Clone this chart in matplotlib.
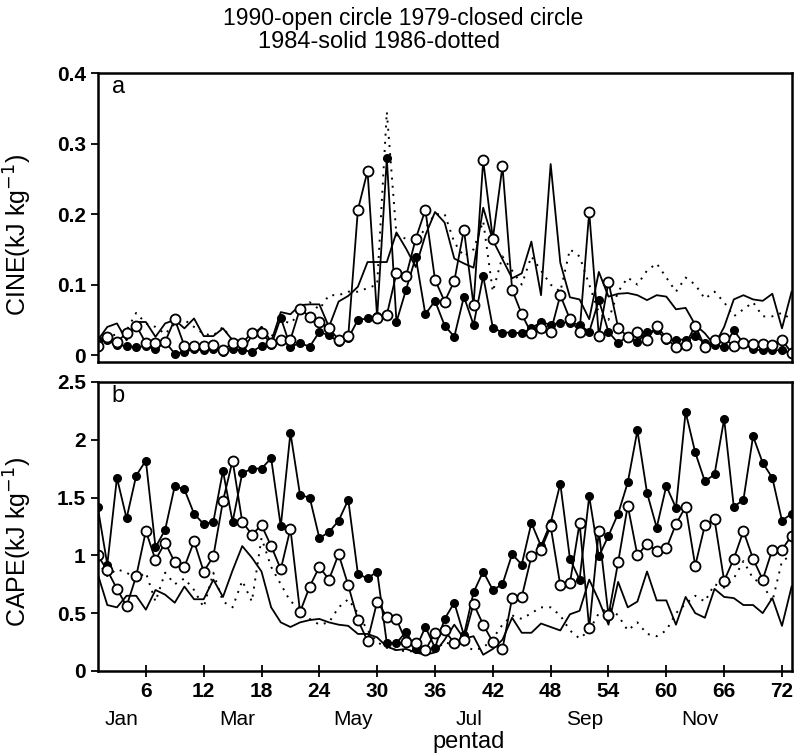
import numpy as np
import matplotlib
matplotlib.use("Agg")
import matplotlib.pyplot as plt
from matplotlib.ticker import FormatStrFormatter, FuncFormatter

plt.rcParams['font.family'] = ['Liberation Sans', 'DejaVu Sans']

pentad = np.arange(1, 74)

# CINE (kJ/kg), panel a
cine_1990 = [0.013, 0.026, 0.019, 0.031, 0.042, 0.017, 0.017, 0.019, 0.051, 0.013,
             0.013, 0.013, 0.014, 0.007, 0.017, 0.017, 0.032, 0.031, 0.017, 0.021,
             0.022, 0.066, 0.054, 0.047, 0.038, 0.022, 0.027, 0.206, 0.261, 0.053,
             0.057, 0.116, 0.112, 0.165, 0.206, 0.107, 0.076, 0.105, 0.178, 0.071,
             0.276, 0.165, 0.268, 0.093, 0.058, 0.031, 0.038, 0.033, 0.085, 0.051,
             0.033, 0.203, 0.027, 0.104, 0.039, 0.026, 0.033, 0.022, 0.042, 0.024,
             0.011, 0.015, 0.042, 0.012, 0.022, 0.024, 0.013, 0.017, 0.016, 0.016,
             0.014, 0.022, 0.003]
cine_1979 = [0.022, 0.022, 0.014, 0.013, 0.011, 0.013, 0.008, 0.019, 0.002, 0.005,
             0.008, 0.007, 0.009, 0.005, 0.008, 0.007, 0.005, 0.013, 0.014, 0.053,
             0.012, 0.017, 0.012, 0.033, 0.028, 0.019, 0.024, 0.050, 0.052, 0.055,
             0.279, 0.047, 0.093, 0.139, 0.058, 0.077, 0.042, 0.026, 0.083, 0.043,
             0.112, 0.039, 0.032, 0.032, 0.031, 0.038, 0.047, 0.043, 0.046, 0.046,
             0.043, 0.033, 0.078, 0.033, 0.017, 0.027, 0.019, 0.033, 0.035, 0.022,
             0.022, 0.022, 0.027, 0.017, 0.014, 0.012, 0.035, 0.017, 0.008, 0.007,
             0.007, 0.007, 0.002]
cine_1984 = [0.021, 0.040, 0.045, 0.021, 0.047, 0.047, 0.026, 0.045, 0.050, 0.038,
             0.052, 0.027, 0.027, 0.038, 0.021, 0.008, 0.027, 0.040, 0.019, 0.061,
             0.058, 0.071, 0.072, 0.072, 0.040, 0.076, 0.084, 0.097, 0.132, 0.132,
             0.132, 0.174, 0.151, 0.125, 0.170, 0.203, 0.188, 0.137, 0.130, 0.124,
             0.209, 0.163, 0.136, 0.109, 0.116, 0.161, 0.085, 0.271, 0.131, 0.082,
             0.079, 0.051, 0.118, 0.083, 0.087, 0.088, 0.085, 0.078, 0.085, 0.083,
             0.065, 0.067, 0.043, 0.031, 0.014, 0.040, 0.079, 0.085, 0.079, 0.077,
             0.087, 0.038, 0.090]
cine_1986 = [0.021, 0.025, 0.030, 0.035, 0.060, 0.045, 0.040, 0.030, 0.045, 0.050,
             0.040, 0.030, 0.028, 0.040, 0.020, 0.015, 0.035, 0.040, 0.025, 0.050,
             0.045, 0.060, 0.075, 0.065, 0.085, 0.085, 0.090, 0.090, 0.095, 0.100,
             0.345, 0.170, 0.165, 0.160, 0.180, 0.200, 0.200, 0.160, 0.140, 0.150,
             0.190, 0.090, 0.140, 0.120, 0.100, 0.140, 0.120, 0.100, 0.090, 0.150,
             0.140, 0.100, 0.060, 0.050, 0.090, 0.110, 0.100, 0.120, 0.130, 0.110,
             0.090, 0.110, 0.100, 0.080, 0.090, 0.075, 0.055, 0.065, 0.075, 0.055,
             0.055, 0.060, 0.050]

# CAPE (kJ/kg), panel b
cape_1990 = [1.00, 0.87, 0.71, 0.56, 0.82, 1.21, 0.96, 1.11, 0.94, 0.90,
             1.12, 0.86, 0.99, 1.47, 1.82, 1.29, 1.18, 1.26, 1.08, 0.88,
             1.23, 0.51, 0.73, 0.90, 0.79, 1.01, 0.74, 0.44, 0.26, 0.60,
             0.47, 0.45, 0.25, 0.24, 0.18, 0.33, 0.35, 0.24, 0.27, 0.58,
             0.40, 0.25, 0.19, 0.63, 0.64, 0.99, 1.05, 1.25, 0.74, 0.76,
             1.28, 0.37, 1.21, 0.48, 0.94, 1.43, 1.00, 1.10, 1.04, 1.06,
             1.27, 1.42, 0.91, 1.26, 1.31, 0.78, 0.97, 1.21, 0.97, 0.79,
             1.05, 1.05, 1.17]
cape_1979 = [1.42, 0.92, 1.67, 1.32, 1.69, 1.82, 1.07, 1.22, 1.60, 1.57,
             1.36, 1.27, 1.29, 1.73, 1.29, 1.71, 1.75, 1.75, 1.84, 1.25,
             2.06, 1.52, 1.50, 1.15, 1.20, 1.30, 1.48, 0.84, 0.80, 0.86,
             0.24, 0.24, 0.34, 0.19, 0.38, 0.20, 0.45, 0.59, 0.31, 0.68,
             0.86, 0.70, 0.75, 1.01, 0.92, 1.28, 1.08, 1.28, 1.62, 0.97,
             0.79, 1.51, 0.99, 1.17, 1.36, 1.63, 2.08, 1.54, 1.24, 1.60,
             1.41, 2.24, 1.89, 1.64, 1.70, 2.18, 1.42, 1.48, 2.03, 1.80,
             1.67, 1.30, 1.36]
cape_1984 = [0.84, 0.57, 0.55, 0.65, 0.65, 0.53, 0.70, 0.66, 0.59, 0.73,
             0.62, 0.62, 0.79, 0.64, 0.87, 1.08, 0.98, 0.86, 0.55, 0.42,
             0.38, 0.42, 0.44, 0.45, 0.42, 0.40, 0.39, 0.32, 0.32, 0.29,
             0.21, 0.18, 0.19, 0.16, 0.14, 0.16, 0.27, 0.40, 0.28, 0.30,
             0.14, 0.19, 0.27, 0.46, 0.33, 0.33, 0.41, 0.38, 0.35, 0.49,
             0.52, 0.79, 0.61, 0.40, 0.77, 0.55, 0.60, 0.86, 0.61, 0.61,
             0.40, 0.64, 0.50, 0.46, 0.71, 0.64, 0.63, 0.57, 0.57, 0.50,
             0.63, 0.39, 0.73]
cape_1986 = [0.95, 0.82, 0.88, 0.85, 0.80, 0.85, 0.60, 0.85, 0.75, 0.80,
             0.70, 0.55, 0.85, 0.60, 0.55, 0.78, 0.60, 1.15, 0.90, 0.75,
             0.60, 0.55, 0.45, 0.40, 0.42, 0.55, 0.62, 0.50, 0.35, 0.25,
             0.20, 0.18, 0.17, 0.17, 0.15, 0.18, 0.25, 0.22, 0.22, 0.18,
             0.20, 0.28, 0.40, 0.48, 0.45, 0.50, 0.55, 0.55, 0.48, 0.35,
             0.28, 0.35, 0.50, 0.55, 0.48, 0.35, 0.42, 0.32, 0.30, 0.35,
             0.50, 0.58, 0.65, 0.60, 0.75, 0.72, 0.80, 0.95, 0.80, 0.75,
             0.60, 0.95, 1.00]

xticks = [6, 12, 18, 24, 30, 36, 42, 48, 54, 60, 66, 72]
months = ["Jan", "Mar", "May", "Jul", "Sep", "Nov"]
month_pos = [3.5, 15.5, 27.5, 39.5, 51.5, 63.5]

fig = plt.figure(figsize=(7.94, 7.53), dpi=100)
ax_a = fig.add_axes([0.123, 0.519, 0.874, 0.384])
ax_b = fig.add_axes([0.123, 0.109, 0.874, 0.3838])


def draw(ax, open_c, closed_c, solid, dotted):
    ax.plot(pentad, dotted, color='black', lw=1.4, ls=(0, (1, 3.2)))
    ax.plot(pentad, solid, color='black', lw=1.3)
    ax.plot(pentad, closed_c, color='black', lw=1.3, marker='o', ms=5.5,
            mfc='black', mec='black')
    ax.plot(pentad, open_c, color='black', lw=1.3, marker='o', ms=7.2,
            mfc='white', mec='black', mew=1.3)
    ax.set_xlim(1, 73)
    for s in ax.spines.values():
        s.set_linewidth(1.8)
    ax.tick_params(axis='y', direction='out', length=5, width=1.3,
                   labelsize=15)


draw(ax_a, cine_1990, cine_1979, cine_1984, cine_1986)
ax_a.set_ylim(-0.01, 0.4)
ax_a.set_yticks([0, 0.1, 0.2, 0.3, 0.4])
ax_a.yaxis.set_major_formatter(FuncFormatter(lambda v, p: "0" if v == 0 else "%.1f" % v))
ax_a.set_xticks(xticks)
ax_a.set_xticklabels([])
ax_a.tick_params(axis='x', direction='inout', length=4, width=1.5, color='white')
ax_a.set_ylabel("CINE(kJ kg$^{-1}$)", fontsize=18)
ax_a.yaxis.set_label_coords(-0.092, 0.44)
ax_a.text(0.02, 0.99, "a", transform=ax_a.transAxes, fontsize=17, va='top')

draw(ax_b, cape_1990, cape_1979, cape_1984, cape_1986)
ax_b.set_ylim(0, 2.5)
ax_b.set_yticks([0, 0.5, 1, 1.5, 2, 2.5])
ax_b.yaxis.set_major_formatter(FormatStrFormatter("%g"))
ax_b.set_xticks(xticks)
ax_b.tick_params(axis='x', direction='inout', length=8, width=1.3,
                 labelsize=15, pad=4)
ax_b.set_ylabel("CAPE(kJ kg$^{-1}$)", fontsize=18)
ax_b.yaxis.set_label_coords(-0.092, 0.446)
ax_b.text(0.02, 0.99, "b", transform=ax_b.transAxes, fontsize=17, va='top')
for lab in ax_a.get_yticklabels() + ax_b.get_yticklabels() + ax_b.get_xticklabels():
    lab.set_fontweight('bold')

for m, pos in zip(months, month_pos):
    ax_b.text(pos, -0.135, m, transform=ax_b.get_xaxis_transform(),
              ha='center', va='top', fontsize=15)
ax_b.text(39.5, -0.283, "pentad", transform=ax_b.get_xaxis_transform(),
          ha='center', va='bottom', fontsize=17)

fig.text(0.508, 0.976, "1990-open circle 1979-closed circle", ha='center',
         va='center', fontsize=16.5)
fig.text(0.478, 0.944, "1984-solid 1986-dotted", ha='center',
         va='center', fontsize=17)

fig.savefig("out.png", dpi=100)
